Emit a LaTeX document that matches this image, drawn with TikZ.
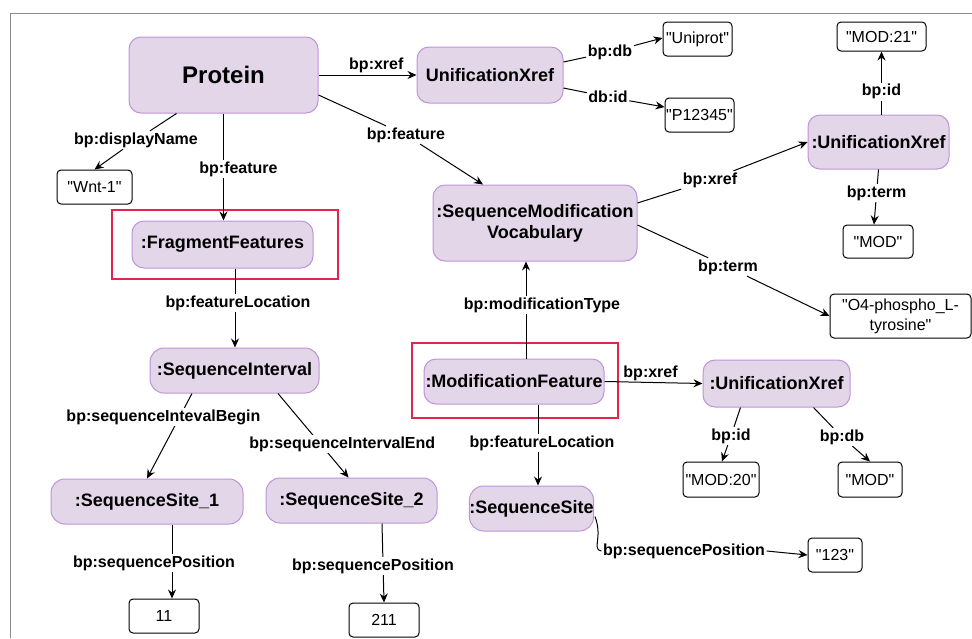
\documentclass[tikz,border=0pt]{standalone}
\usepackage{fontspec}
\setmainfont{Liberation Sans}[Ligatures=TeXOff]
\usetikzlibrary{arrows.meta,calc}
\definecolor{nodefill}{HTML}{E2D6E8}
\definecolor{nodeline}{HTML}{BF93D9}
\definecolor{hilite}{HTML}{E0264F}
\definecolor{framegray}{HTML}{8C8C8C}
\begin{document}
\begin{tikzpicture}[x=1pt,y=-1pt,
  cls/.style={draw=nodeline, fill=nodefill, line width=1pt, rounded corners=12pt,
    inner sep=0pt, align=center, font=\bfseries\fontsize{18}{21}\selectfont},
  val/.style={draw=black, fill=white, line width=1pt, rounded corners=4pt,
    inner sep=0pt, align=center, font=\fontsize{16}{19}\selectfont},
  lbl/.style={fill=white, inner sep=1.5pt, font=\bfseries\fontsize{16}{18}\selectfont},
  arr/.style={draw=black, line width=1pt, -{Stealth[length=9pt,width=8pt,inset=3pt]}},
]
\useasboundingbox (0,0) rectangle (972,638);

% outer frame
\draw[framegray, line width=1pt] (972,13) -- (10,13) -- (10,638);

% highlight frames
\draw[hilite, line width=2pt] (112,210) rectangle (338,279);
\draw[hilite, line width=2pt] (412,343) rectangle (618,418);

% class nodes
\node[cls, minimum width=189, minimum height=76, font=\bfseries\fontsize{24}{28}\selectfont] (protein) at (223.5,75) {Protein};
\node[cls, minimum width=146, minimum height=56] (ux1) at (490,75) {UnificationXref};
\node[cls, minimum width=204, minimum height=76] (smv) at (535,223) {:SequenceModification\\Vocabulary};
\node[cls, minimum width=141, minimum height=54] (ux2) at (878.5,142) {:UnificationXref};
\node[cls, minimum width=181, minimum height=47] (ff) at (222.5,244.5) {:FragmentFeatures};
\node[cls, minimum width=180, minimum height=45] (mf) at (514,381.5) {:ModificationFeature};
\node[cls, minimum width=147, minimum height=47] (ux3) at (776.5,383.5) {:UnificationXref};
\node[cls, minimum width=169, minimum height=45, rounded corners=14pt] (si) at (234.5,370.5) {:SequenceInterval};
\node[cls, minimum width=192, minimum height=45, rounded corners=14pt] (ss1) at (147,501.5) {:SequenceSite\_1};
\node[cls, minimum width=171, minimum height=45, rounded corners=14pt] (ss2) at (351.5,500.5) {:SequenceSite\_2};
\node[cls, minimum width=115, minimum height=45, rounded corners=14pt] (ss) at (531.5,508.5) {:SequenceSite};

% literal values
\node[val, minimum width=75, minimum height=34] (wnt) at (94.5,187) {"Wnt-1"};
\node[val, minimum width=69, minimum height=34] (uniprot) at (697.5,39) {"Uniprot"};
\node[val, minimum width=69, minimum height=34] (p12345) at (699.5,115) {"P12345"};
\node[val, minimum width=89, minimum height=29] (mod21) at (881.5,36.5) {"MOD:21"};
\node[val, minimum width=70, minimum height=33] (moda) at (878,241.5) {"MOD"};
\node[val, minimum width=141, minimum height=44, font=\fontsize{16}{20}\selectfont] (o4) at (900.5,316) {"O4-phospho\_L-\\tyrosine"};
\node[val, minimum width=76, minimum height=35] (mod20) at (721,479.5) {"MOD:20"};
\node[val, minimum width=64, minimum height=35] (modb) at (870,479.5) {"MOD"};
\node[val, minimum width=54, minimum height=34] (v123) at (835,555) {"123"};
\node[val, minimum width=70, minimum height=34] (v11) at (164,616) {11};
\node[val, minimum width=70, minimum height=34] (v211) at (384,620) {211};

% labels that break their connector
\node[lbl] (lDisp) at (136,140) {bp:displayName};
\node[lbl] (lFeat2) at (406,135) {bp:feature};
\node[lbl] (lDb1) at (610,52) {bp:db};
\node[lbl] (lId1) at (608,97) {db:id};
\node[lbl] (lXref2) at (710,180) {bp:xref};
\node[lbl] (lTerm2) at (728,267) {bp:term};
\node[lbl] (lId3) at (731,436) {bp:id};
\node[lbl] (lDb3) at (842,437) {bp:db};
\node[lbl] (lPos3) at (684,551) {bp:sequencePosition};

% connectors
\draw[arr] ($(protein.south west)+(48,0)$) -- (lDisp) -- (wnt.north);
\draw[arr] (protein.south) -- node[lbl, pos=0.52, xshift=15pt] {bp:feature} (protein.south |- ff.north);
\draw[arr] (protein.east) -- node[lbl, above, pos=0.59, fill=none] {bp:xref} (ux1.west);
\draw[arr] ($(protein.east)+(0,20)$) -- (lFeat2) -- ($(smv.north)+(-52,0)$);
\draw[arr] ($(ux1.east)+(0,-13)$) -- (lDb1) -- ($(uniprot.west)+(0,-1)$);
\draw[arr] ($(ux1.east)+(0,13)$) -- (lId1) -- ($(p12345.west)+(0,-8)$);
\draw[arr] ($(smv.east)+(0,-20)$) -- (lXref2) -- (ux2.west);
\draw[arr] ($(smv.east)+(0,2)$) -- (lTerm2) -- (o4.west);
\draw[arr] (ux2.north -| mod21.south) -- node[lbl, pos=0.36] {bp:id} (mod21.south);
\draw[arr] (ux2.south) -- node[lbl, pos=0.43] {bp:term} ($(moda.north)+(-4,0)$);
\draw[arr] ($(mf.north)+(12,0)$) -- node[lbl, pos=0.55, xshift=16pt] {bp:modificationType} ($(mf.north |- smv.south)+(12,0)$);
\draw[arr] (mf.east) -- node[lbl, above, pos=0.47, fill=none] {bp:xref} (ux3.west);
\draw[arr] ($(mf.south)+(24,0)$) -- node[lbl, pos=0.48, xshift=4pt] {bp:featureLocation} ($(mf.south |- ss.north)+(24,0)$);
\draw[arr] ($(ux3.south)+(-36,0)$) -- (lId3) -- ($(mod20.north)+(1,0)$);
\draw[arr] ($(ux3.south)+(37,0)$) -- (lDb3) -- (modb.north);
\draw[arr] ($(ss.east)+(1,8)$) .. controls +(8,22) and +(-10,-2) .. (lPos3.west)
  (lPos3.east) -- (v123.west);
\draw[arr] ($(ff.south)+(12.5,0)$) -- node[lbl, pos=0.44, xshift=3pt] {bp:featureLocation} ($(ff.south |- si.north)+(12.5,0)$);
\draw[arr] ($(si.south)+(-42.5,0)$) -- node[lbl, pos=0.28, xshift=-16pt] {bp:sequenceIntevalBegin} (ss1.north);
\draw[arr] ($(si.south)+(43.5,0)$) -- node[lbl, pos=0.6, xshift=22pt] {bp:sequenceIntervalEnd} ($(ss2.north)+(-3,0)$);
\draw[arr] ($(ss1.south)+(25,0)$) -- node[lbl, pos=0.52, xshift=-18pt] {bp:sequencePosition} ($(v11.north)+(8,0)$);
\draw[arr] ($(ss2.south)+(30.5,0)$) -- node[lbl, pos=0.54, xshift=-10pt] {bp:sequencePosition} (v211.north);
\end{tikzpicture}
\end{document}
